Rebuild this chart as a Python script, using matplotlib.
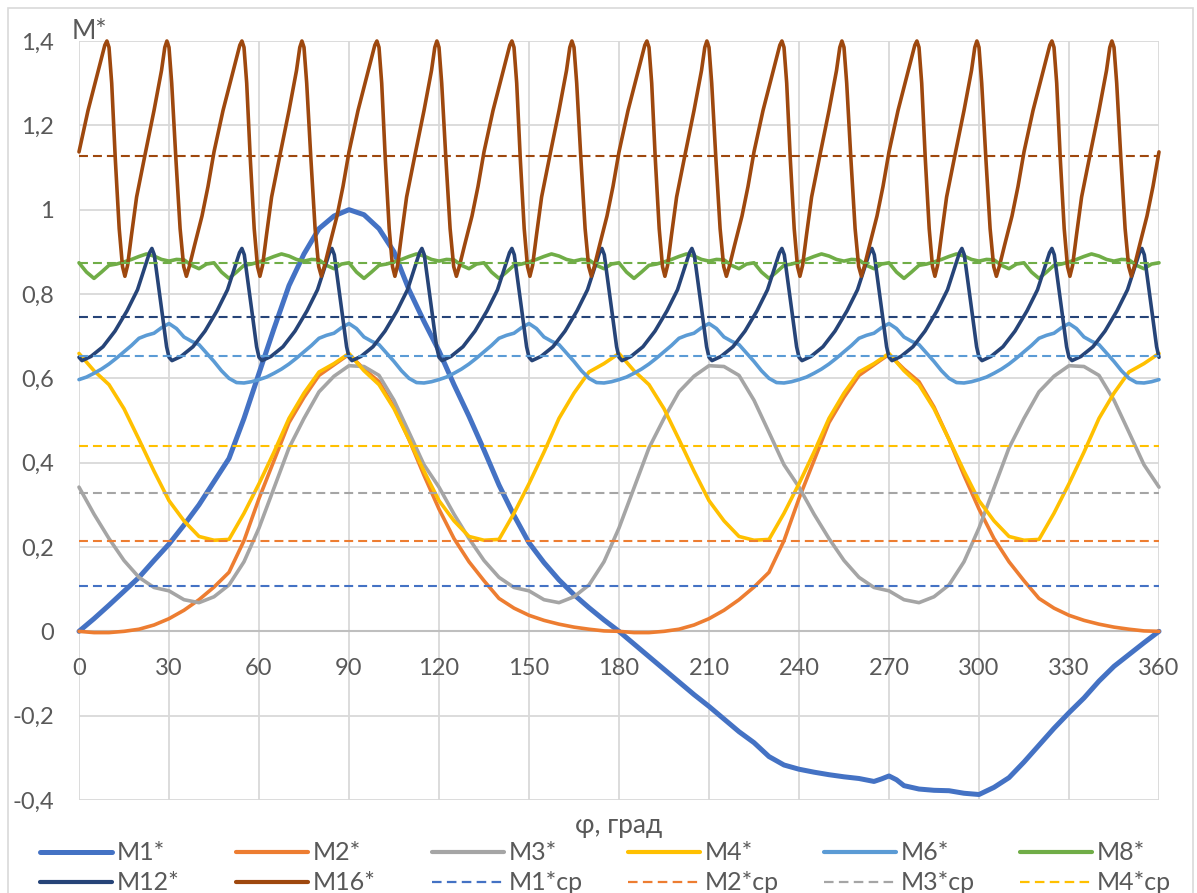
import matplotlib.pyplot as plt
from matplotlib.lines import Line2D
from matplotlib.patches import Rectangle

plt.rcParams['font.family'] = ['Lato', 'DejaVu Sans']

W, H = 1197, 893
TEXT = "#595959"

# crank angle grids (deg)
PHI5 = list(range(0, 361, 5))
PHI25 = [i * 2.5 for i in range(145)]

M1_PHI = [0, 5, 10, 15, 20, 25, 30, 35, 40, 45, 50, 55, 60, 65, 70, 75, 80, 85, 90,
          95, 100, 105, 110, 115, 120, 125, 130, 135, 140, 145, 150, 155, 160, 165,
          170, 175, 180, 185, 190, 195, 200, 205, 210, 215, 220, 225, 230, 235, 240,
          245, 250, 255, 260, 265, 267.5, 270, 272.5, 275, 280, 285, 290, 295, 300,
          305, 310, 315, 320, 325, 330, 335, 340, 345, 350, 355, 360]
M1 = [0.0, 0.03, 0.062, 0.095, 0.128, 0.168, 0.207, 0.252, 0.3, 0.355, 0.41,
      0.505, 0.612, 0.718, 0.82, 0.895, 0.955, 0.985, 1.0, 0.988, 0.955,
      0.9, 0.81, 0.735, 0.665, 0.585, 0.51, 0.43, 0.347, 0.275, 0.21,
      0.163, 0.122, 0.087, 0.056, 0.027, 0.0, -0.03, -0.06, -0.09, -0.12,
      -0.15, -0.178, -0.208, -0.238, -0.264, -0.297, -0.317, -0.327, -0.334, -0.34,
      -0.345, -0.349, -0.356, -0.35, -0.343, -0.352, -0.366, -0.374, -0.377, -0.378,
      -0.384, -0.387, -0.37, -0.347, -0.31, -0.27, -0.23, -0.193, -0.158, -0.118,
      -0.083, -0.055, -0.027, 0.0]

M2 = [0.0, -0.003, -0.003, 0.0, 0.005, 0.015, 0.03, 0.05, 0.075, 0.105, 0.14, 0.215,
      0.315, 0.405, 0.495, 0.555, 0.607, 0.632, 0.657, 0.622, 0.592, 0.532, 0.455, 0.37,
      0.29, 0.22, 0.165, 0.12, 0.078, 0.055, 0.038, 0.026, 0.017, 0.01, 0.005, 0.001,
      0.0, -0.003, -0.003, 0.0, 0.005, 0.015, 0.03, 0.05, 0.075, 0.105, 0.14, 0.215,
      0.315, 0.405, 0.495, 0.555, 0.607, 0.632, 0.657, 0.622, 0.592, 0.532, 0.455, 0.37,
      0.29, 0.22, 0.165, 0.12, 0.078, 0.055, 0.038, 0.026, 0.017, 0.01, 0.005, 0.001,
      0.0]

M3 = [0.342, 0.278, 0.22, 0.168, 0.128, 0.104, 0.096, 0.075, 0.068, 0.082, 0.11, 0.165,
      0.245, 0.34, 0.435, 0.505, 0.568, 0.605, 0.63, 0.628, 0.607, 0.548, 0.472, 0.395,
      0.342, 0.278, 0.22, 0.168, 0.128, 0.104, 0.096, 0.075, 0.068, 0.082, 0.11, 0.165,
      0.245, 0.34, 0.435, 0.505, 0.568, 0.605, 0.63, 0.628, 0.607, 0.548, 0.472, 0.395,
      0.342, 0.278, 0.22, 0.168, 0.128, 0.104, 0.096, 0.075, 0.068, 0.082, 0.11, 0.165,
      0.245, 0.34, 0.435, 0.505, 0.568, 0.605, 0.63, 0.628, 0.607, 0.548, 0.472, 0.395,
      0.342]

M4 = [0.659, 0.618, 0.585, 0.528, 0.455, 0.38, 0.31, 0.262, 0.225, 0.216, 0.218, 0.28,
      0.35, 0.425, 0.505, 0.565, 0.615, 0.635,
      0.659, 0.618, 0.585, 0.528, 0.455, 0.38, 0.31, 0.262, 0.225, 0.216, 0.218, 0.28,
      0.35, 0.425, 0.505, 0.565, 0.615, 0.635,
      0.659, 0.618, 0.585, 0.528, 0.455, 0.38, 0.31, 0.262, 0.225, 0.216, 0.218, 0.28,
      0.35, 0.425, 0.505, 0.565, 0.615, 0.635,
      0.659, 0.618, 0.585, 0.528, 0.455, 0.38, 0.31, 0.262, 0.225, 0.216, 0.218, 0.28,
      0.35, 0.425, 0.505, 0.565, 0.615, 0.635,
      0.659]

M6 = [0.597, 0.603, 0.612, 0.622, 0.634, 0.648, 0.663, 0.678, 0.695, 0.702, 0.707, 0.72,
      0.73, 0.718, 0.698, 0.688, 0.68, 0.66, 0.64, 0.618, 0.6, 0.59, 0.589, 0.592,
      0.597, 0.603, 0.612, 0.622, 0.634, 0.648, 0.663, 0.678, 0.695, 0.702, 0.707, 0.72,
      0.73, 0.718, 0.698, 0.688, 0.68, 0.66, 0.64, 0.618, 0.6, 0.59, 0.589, 0.592,
      0.597, 0.603, 0.612, 0.622, 0.634, 0.648, 0.663, 0.678, 0.695, 0.702, 0.707, 0.72,
      0.73, 0.718, 0.698, 0.688, 0.68, 0.66, 0.64, 0.618, 0.6, 0.59, 0.589, 0.592,
      0.597, 0.603, 0.612, 0.622, 0.634, 0.648, 0.663, 0.678, 0.695, 0.702, 0.707, 0.72,
      0.73, 0.718, 0.698, 0.688, 0.68, 0.66, 0.64, 0.618, 0.6, 0.59, 0.589, 0.592,
      0.597, 0.603, 0.612, 0.622, 0.634, 0.648, 0.663, 0.678, 0.695, 0.702, 0.707, 0.72,
      0.73, 0.718, 0.698, 0.688, 0.68, 0.66, 0.64, 0.618, 0.6, 0.59, 0.589, 0.592,
      0.597, 0.603, 0.612, 0.622, 0.634, 0.648, 0.663, 0.678, 0.695, 0.702, 0.707, 0.72,
      0.73, 0.718, 0.698, 0.688, 0.68, 0.66, 0.64, 0.618, 0.6, 0.59, 0.589, 0.592,
      0.597]

M8 = [0.874, 0.852, 0.837, 0.852, 0.868, 0.871, 0.876, 0.882, 0.889, 0.895, 0.89, 0.882,
      0.878, 0.882, 0.881, 0.868, 0.86, 0.871,
      0.874, 0.852, 0.837, 0.852, 0.868, 0.871, 0.876, 0.882, 0.889, 0.895, 0.89, 0.882,
      0.878, 0.882, 0.881, 0.868, 0.86, 0.871,
      0.874, 0.852, 0.837, 0.852, 0.868, 0.871, 0.876, 0.882, 0.889, 0.895, 0.89, 0.882,
      0.878, 0.882, 0.881, 0.868, 0.86, 0.871,
      0.874, 0.852, 0.837, 0.852, 0.868, 0.871, 0.876, 0.882, 0.889, 0.895, 0.89, 0.882,
      0.878, 0.882, 0.881, 0.868, 0.86, 0.871,
      0.874, 0.852, 0.837, 0.852, 0.868, 0.871, 0.876, 0.882, 0.889, 0.895, 0.89, 0.882,
      0.878, 0.882, 0.881, 0.868, 0.86, 0.871,
      0.874, 0.852, 0.837, 0.852, 0.868, 0.871, 0.876, 0.882, 0.889, 0.895, 0.89, 0.882,
      0.878, 0.882, 0.881, 0.868, 0.86, 0.871,
      0.874, 0.852, 0.837, 0.852, 0.868, 0.871, 0.876, 0.882, 0.889, 0.895, 0.89, 0.882,
      0.878, 0.882, 0.881, 0.868, 0.86, 0.871,
      0.874, 0.852, 0.837, 0.852, 0.868, 0.871, 0.876, 0.882, 0.889, 0.895, 0.89, 0.882,
      0.878, 0.882, 0.881, 0.868, 0.86, 0.871,
      0.874]

M12_PHI = [0, 1, 4, 8, 12, 16, 19.5, 22, 23.5, 24.3, 25.1, 26.3, 27.8, 29.2,
           30, 31, 34, 38, 42, 46, 49.5, 52, 53.5, 54.3, 55.1, 56.3, 57.8, 59.2,
           60, 61, 64, 68, 72, 76, 79.5, 82, 83.5, 84.3, 85.1, 86.3, 87.8, 89.2,
           90, 91, 94, 98, 102, 106, 109.5, 112, 113.5, 114.3, 115.1, 116.3, 117.8, 119.2,
           120, 121, 124, 128, 132, 136, 139.5, 142, 143.5, 144.3, 145.1, 146.3, 147.8, 149.2,
           150, 151, 154, 158, 162, 166, 169.5, 172, 173.5, 174.3, 175.1, 176.3, 177.8, 179.2,
           180, 181, 184, 188, 192, 196, 199.5, 202, 203.5, 204.3, 205.1, 206.3, 207.8, 209.2,
           210, 211, 214, 218, 222, 226, 229.5, 232, 233.5, 234.3, 235.1, 236.3, 237.8, 239.2,
           240, 241, 244, 248, 252, 256, 259.5, 262, 263.5, 264.3, 265.1, 266.3, 267.8, 269.2,
           270, 271, 274, 278, 282, 286, 289.5, 292, 293.5, 294.3, 295.1, 296.3, 297.8, 299.2,
           300, 301, 304, 308, 312, 316, 319.5, 322, 323.5, 324.3, 325.1, 326.3, 327.8, 329.2,
           330, 331, 334, 338, 342, 346, 349.5, 352, 353.5, 354.3, 355.1, 356.3, 357.8, 359.2,
           360]
M12 = [0.65, 0.642, 0.652, 0.675, 0.712, 0.76, 0.81, 0.865, 0.898, 0.908, 0.893, 0.83, 0.75, 0.675,
       0.65, 0.642, 0.652, 0.675, 0.712, 0.76, 0.81, 0.865, 0.898, 0.908, 0.893, 0.83, 0.75, 0.675,
       0.65, 0.642, 0.652, 0.675, 0.712, 0.76, 0.81, 0.865, 0.898, 0.908, 0.893, 0.83, 0.75, 0.675,
       0.65, 0.642, 0.652, 0.675, 0.712, 0.76, 0.81, 0.865, 0.898, 0.908, 0.893, 0.83, 0.75, 0.675,
       0.65, 0.642, 0.652, 0.675, 0.712, 0.76, 0.81, 0.865, 0.898, 0.908, 0.893, 0.83, 0.75, 0.675,
       0.65, 0.642, 0.652, 0.675, 0.712, 0.76, 0.81, 0.865, 0.898, 0.908, 0.893, 0.83, 0.75, 0.675,
       0.65, 0.642, 0.652, 0.675, 0.712, 0.76, 0.81, 0.865, 0.898, 0.908, 0.893, 0.83, 0.75, 0.675,
       0.65, 0.642, 0.652, 0.675, 0.712, 0.76, 0.81, 0.865, 0.898, 0.908, 0.893, 0.83, 0.75, 0.675,
       0.65, 0.642, 0.652, 0.675, 0.712, 0.76, 0.81, 0.865, 0.898, 0.908, 0.893, 0.83, 0.75, 0.675,
       0.65, 0.642, 0.652, 0.675, 0.712, 0.76, 0.81, 0.865, 0.898, 0.908, 0.893, 0.83, 0.75, 0.675,
       0.65, 0.642, 0.652, 0.675, 0.712, 0.76, 0.81, 0.865, 0.898, 0.908, 0.893, 0.83, 0.75, 0.675,
       0.65, 0.642, 0.652, 0.675, 0.712, 0.76, 0.81, 0.865, 0.898, 0.908, 0.893, 0.83, 0.75, 0.675,
       0.65]

M16_PHI = [0, 3, 7, 8.6, 9.3, 10, 10.9, 12.1, 13.4, 14.5, 15.3, 16.2, 17.5, 19.2, 22, 25,
           27.5, 28.6, 29.3, 30, 30.9, 32.3, 33.7, 34.9, 35.8, 36.8, 38.5, 41, 43,
           45, 48, 52, 53.6, 54.3, 55, 55.9, 57.1, 58.4, 59.5, 60.3, 61.2, 62.5, 64.2, 67, 70,
           72.5, 73.6, 74.3, 75, 75.9, 77.3, 78.7, 79.9, 80.8, 81.8, 83.5, 86, 88,
           90, 93, 97, 98.6, 99.3, 100, 100.9, 102.1, 103.4, 104.5, 105.3, 106.2, 107.5, 109.2, 112, 115,
           117.5, 118.6, 119.3, 120, 120.9, 122.3, 123.7, 124.9, 125.8, 126.8, 128.5, 131, 133,
           135, 138, 142, 143.6, 144.3, 145, 145.9, 147.1, 148.4, 149.5, 150.3, 151.2, 152.5, 154.2, 157, 160,
           162.5, 163.6, 164.3, 165, 165.9, 167.3, 168.7, 169.9, 170.8, 171.8, 173.5, 176, 178,
           180, 183, 187, 188.6, 189.3, 190, 190.9, 192.1, 193.4, 194.5, 195.3, 196.2, 197.5, 199.2, 202, 205,
           207.5, 208.6, 209.3, 210, 210.9, 212.3, 213.7, 214.9, 215.8, 216.8, 218.5, 221, 223,
           225, 228, 232, 233.6, 234.3, 235, 235.9, 237.1, 238.4, 239.5, 240.3, 241.2, 242.5, 244.2, 247, 250,
           252.5, 253.6, 254.3, 255, 255.9, 257.3, 258.7, 259.9, 260.8, 261.8, 263.5, 266, 268,
           270, 273, 277, 278.6, 279.3, 280, 280.9, 282.1, 283.4, 284.5, 285.3, 286.2, 287.5, 289.2, 292, 295,
           297.5, 298.6, 299.3, 300, 300.9, 302.3, 303.7, 304.9, 305.8, 306.8, 308.5, 311, 313,
           315, 318, 322, 323.6, 324.3, 325, 325.9, 327.1, 328.4, 329.5, 330.3, 331.2, 332.5, 334.2, 337, 340,
           342.5, 343.6, 344.3, 345, 345.9, 347.3, 348.7, 349.9, 350.8, 351.8, 353.5, 356, 358,
           360]
M16 = [1.137, 1.235, 1.345, 1.39, 1.4, 1.385, 1.3, 1.12, 0.955, 0.865, 0.842, 0.868, 0.94, 1.03, 1.13, 1.235,
       1.33, 1.385, 1.4, 1.385, 1.3, 1.12, 0.955, 0.865, 0.842, 0.866, 0.915, 0.985, 1.055,
       1.137, 1.235, 1.345, 1.39, 1.4, 1.385, 1.3, 1.12, 0.955, 0.865, 0.842, 0.868, 0.94, 1.03, 1.13, 1.235,
       1.33, 1.385, 1.4, 1.385, 1.3, 1.12, 0.955, 0.865, 0.842, 0.866, 0.915, 0.985, 1.055,
       1.137, 1.235, 1.345, 1.39, 1.4, 1.385, 1.3, 1.12, 0.955, 0.865, 0.842, 0.868, 0.94, 1.03, 1.13, 1.235,
       1.33, 1.385, 1.4, 1.385, 1.3, 1.12, 0.955, 0.865, 0.842, 0.866, 0.915, 0.985, 1.055,
       1.137, 1.235, 1.345, 1.39, 1.4, 1.385, 1.3, 1.12, 0.955, 0.865, 0.842, 0.868, 0.94, 1.03, 1.13, 1.235,
       1.33, 1.385, 1.4, 1.385, 1.3, 1.12, 0.955, 0.865, 0.842, 0.866, 0.915, 0.985, 1.055,
       1.137, 1.235, 1.345, 1.39, 1.4, 1.385, 1.3, 1.12, 0.955, 0.865, 0.842, 0.868, 0.94, 1.03, 1.13, 1.235,
       1.33, 1.385, 1.4, 1.385, 1.3, 1.12, 0.955, 0.865, 0.842, 0.866, 0.915, 0.985, 1.055,
       1.137, 1.235, 1.345, 1.39, 1.4, 1.385, 1.3, 1.12, 0.955, 0.865, 0.842, 0.868, 0.94, 1.03, 1.13, 1.235,
       1.33, 1.385, 1.4, 1.385, 1.3, 1.12, 0.955, 0.865, 0.842, 0.866, 0.915, 0.985, 1.055,
       1.137, 1.235, 1.345, 1.39, 1.4, 1.385, 1.3, 1.12, 0.955, 0.865, 0.842, 0.868, 0.94, 1.03, 1.13, 1.235,
       1.33, 1.385, 1.4, 1.385, 1.3, 1.12, 0.955, 0.865, 0.842, 0.866, 0.915, 0.985, 1.055,
       1.137, 1.235, 1.345, 1.39, 1.4, 1.385, 1.3, 1.12, 0.955, 0.865, 0.842, 0.868, 0.94, 1.03, 1.13, 1.235,
       1.33, 1.385, 1.4, 1.385, 1.3, 1.12, 0.955, 0.865, 0.842, 0.866, 0.915, 0.985, 1.055,
       1.137]

MEAN_NAMES = ["M1*ср", "M2*ср", "M3*ср", "M4*ср", "M6*ср", "M8*ср", "M12*ср", "M16*ср"]
MEANS = [0.107, 0.214, 0.327, 0.439, 0.654, 0.874, 0.746, 1.128]

Y_TICKS = [-0.4, -0.2, 0, 0.2, 0.4, 0.6, 0.8, 1.0, 1.2, 1.4]
Y_LABELS = ["-0,4", "-0,2", "0", "0,2", "0,4", "0,6", "0,8", "1", "1,2", "1,4"]
X_TICKS = list(range(0, 361, 30))

SERIES = [("M1*", M1_PHI, M1, "#4472C4"),
          ("M2*", PHI5, M2, "#ED7D31"),
          ("M3*", PHI5, M3, "#A5A5A5"),
          ("M4*", PHI5, M4, "#FFC000"),
          ("M6*", PHI25, M6, "#5B9BD5"),
          ("M8*", PHI25, M8, "#70AD47"),
          ("M12*", M12_PHI, M12, "#264478"),
          ("M16*", M16_PHI, M16, "#9E480E")]

DASH = (0, (4.3, 2.4))

fig = plt.figure(figsize=(W / 100, H / 100), dpi=100)
ax = fig.add_axes([79 / W, (H - 800) / H, 1080 / W, 759 / H])

for name, x, y, c in SERIES:
    ax.plot(x, y, color=c, lw=3.6 if name == "M1*" else 2.6, zorder=3,
            solid_capstyle="round", solid_joinstyle="round", clip_on=False)

for (name, x, y, c), v in zip(SERIES, MEANS):
    ax.plot([0, 360], [v, v], color=c, lw=1.5, ls=DASH, zorder=4)

ax.set_xlim(0, 360)
ax.set_ylim(-0.4, 1.4)
ax.set_xticks(X_TICKS)
ax.set_yticks(Y_TICKS)
ax.set_yticklabels(Y_LABELS)
for s in ["top", "right", "left"]:
    ax.spines[s].set_visible(False)
ax.spines["bottom"].set_position(("data", 0))
ax.spines["bottom"].set_color("#bfbfbf")
ax.spines["bottom"].set_linewidth(1.5)
ax.spines["bottom"].set_zorder(2.5)
ax.tick_params(length=0, labelsize=17, labelcolor=TEXT)
ax.tick_params(axis="x", pad=19)
ax.tick_params(axis="y", pad=18)
ax.grid(True, color="#d9d9d9", lw=1.3)
ax.set_axisbelow(True)

fig.text(72 / W, 1 - 39 / H, "M*", fontsize=19, color=TEXT, va="baseline")
fig.text(619 / W, 1 - 826 / H, "φ, град", fontsize=19, color=TEXT,
         ha="center", va="center")

# legend, laid out like the Excel one (6 columns, 2 visible rows)
entries = [(n, c, 3.6 if n == "M1*" else 3.0, "-") for n, _, _, c in SERIES]
entries += [(MEAN_NAMES[i], SERIES[i][3], 1.6, DASH) for i in range(4)]
for i, (label, c, lw, ls) in enumerate(entries):
    x0 = 40 + 196 * (i % 6)
    yy = 1 - (852 + 30 * (i // 6)) / H
    fig.add_artist(Line2D([x0 / W, (x0 + 72) / W], [yy, yy], color=c, lw=lw, ls=ls,
                          solid_capstyle="round"))
    fig.text((x0 + 77) / W, yy, label, fontsize=18, color=TEXT, va="center")

fig.patches.append(Rectangle((8 / W, -0.01), 1185 / W, (H - 8) / H + 0.01,
                             transform=fig.transFigure, fill=False,
                             ec="#d9d9d9", lw=1.2))

fig.savefig("out.png", dpi=100)
